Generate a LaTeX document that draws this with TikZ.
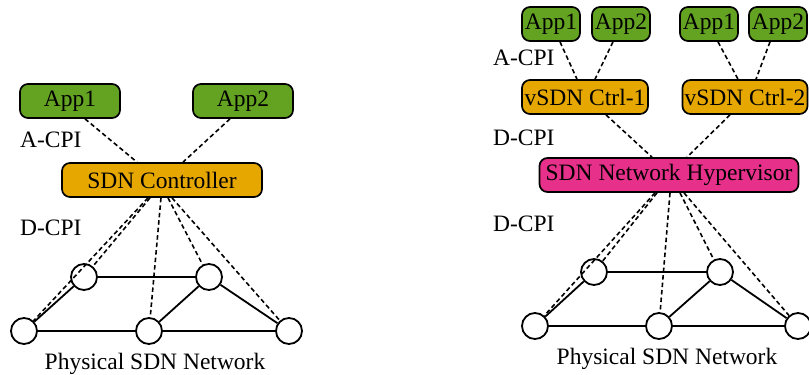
\documentclass[tikz,border=0pt]{standalone}
\usepackage{fontspec}
\setmainfont{Liberation Serif}
\usetikzlibrary{calc}
\definecolor{appgreen}{HTML}{63A321}
\definecolor{ctrlorange}{HTML}{E6A800}
\definecolor{hyppink}{HTML}{E6308A}
\begin{document}
\begin{tikzpicture}[x=1pt,y=-1pt,
  every node/.style={font=\fontsize{23.5}{24}\selectfont},
  box/.style={draw=black,line width=1.7pt,rounded corners=8pt,inner sep=0pt,minimum height=34pt},
  appbox/.style={box,fill=appgreen},
  ctrlbox/.style={box,fill=ctrlorange},
  hypbox/.style={box,fill=hyppink},
  sw/.style={circle,draw=black,line width=1.8pt,fill=white,minimum size=26pt,inner sep=0pt},
  link/.style={line width=1.8pt},
  ctl/.style={line width=1.6pt,dash pattern=on 4.5pt off 3pt},
  lbl/.style={anchor=west,inner sep=0pt}]
\useasboundingbox (0,0) rectangle (809,375);
% ---------- left ----------
\node[appbox,minimum width=100pt] (la1) at (70,101) {App1};
\node[appbox,minimum width=100pt] (la2) at (243,101) {App2};
\node[ctrlbox,minimum width=200pt] (lc) at (162,180) {SDN Controller};
\node[lbl] (lacpi) at (20,140) {A-CPI};
\node[lbl] (ldcpi) at (20,228) {D-CPI};
\node[sw] (lul) at (84,277) {};
\node[sw] (lur) at (209,277) {};
\node[sw] (lbl) at (24,331) {};
\node[sw] (lbm) at (149,331) {};
\node[sw] (lbr) at (289,331) {};
\node (lnet) at (155,364) {Physical SDN Network};
\draw[link] (lul) -- (lur);
\draw[link] (lul) -- (lbl);
\draw[link] (lbl) -- (lbm);
\draw[link] (lbm) -- (lur);
\draw[link] (lur) -- (lbr);
\draw[link] (lbm) -- (lbr);
\draw[ctl] ($(la1.south)+(15,0)$) -- ($(lc.north)+(-25,0)$);
\draw[ctl] ($(la2.south)+(-13,0)$) -- ($(lc.north)+(21,0)$);
\draw[ctl] ($(lc.south)+(-12,0)$) -- (lul);
\draw[ctl] ($(lc.south)+(-14,0)$) -- (lbl);
\draw[ctl] ($(lc.south)+(-1,0)$) -- (lbm);
\draw[ctl] ($(lc.south)+(6,0)$) -- (lur);
\draw[ctl] ($(lc.south)+(10,0)$) -- (lbr);
% ---------- right ----------
\node[appbox,minimum width=58pt] (ra1) at (551,24) {App1};
\node[appbox,minimum width=58pt] (ra2) at (621,24) {App2};
\node[appbox,minimum width=58pt] (rb1) at (709,24) {App1};
\node[appbox,minimum width=58pt] (rb2) at (778,24) {App2};
\node[ctrlbox,minimum width=126pt] (rc1) at (585,97) {vSDN Ctrl-1};
\node[ctrlbox,minimum width=125pt] (rc2) at (745,97) {vSDN Ctrl-2};
\node[hypbox,minimum width=259pt] (hyp) at (669,175) {SDN Network Hypervisor};
\node[lbl] (racpi) at (493,58) {A-CPI};
\node[lbl] (rdcpi1) at (493,138) {D-CPI};
\node[lbl] (rdcpi2) at (493,224) {D-CPI};
\node[sw] (rul) at (594,272) {};
\node[sw] (rur) at (720,272) {};
\node[sw] (rbl) at (535,326) {};
\node[sw] (rbm) at (659,326) {};
\node[sw] (rbr) at (798,326) {};
\node (rnet) at (667,359) {Physical SDN Network};
\draw[link] (rul) -- (rur);
\draw[link] (rul) -- (rbl);
\draw[link] (rbl) -- (rbm);
\draw[link] (rbm) -- (rur);
\draw[link] (rur) -- (rbr);
\draw[link] (rbm) -- (rbr);
\draw[ctl] ($(ra1.south)+(9,0)$) -- ($(rc1.north)+(-8,0)$);
\draw[ctl] ($(ra2.south)+(-8,0)$) -- ($(rc1.north)+(10,0)$);
\draw[ctl] ($(rb1.south)+(9,0)$) -- ($(rc2.north)+(-7,0)$);
\draw[ctl] ($(rb2.south)+(-8,0)$) -- ($(rc2.north)+(11,0)$);
\draw[ctl] ($(rc1.south)+(21,0)$) -- ($(hyp.north)+(-17,0)$);
\draw[ctl] ($(rc2.south)+(-15,0)$) -- ($(hyp.north)+(18,0)$);
\draw[ctl] ($(hyp.south)+(-12,0)$) -- (rul);
\draw[ctl] ($(hyp.south)+(-14,0)$) -- (rbl);
\draw[ctl] ($(hyp.south)+(1,0)$) -- (rbm);
\draw[ctl] ($(hyp.south)+(11,0)$) -- (rur);
\draw[ctl] ($(hyp.south)+(15,0)$) -- (rbr);
\end{tikzpicture}
\end{document}
